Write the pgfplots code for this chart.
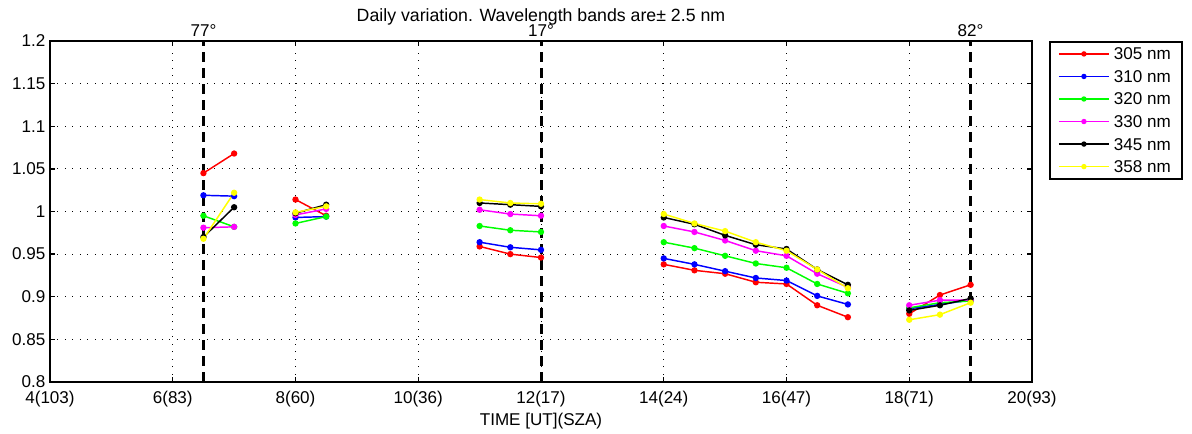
\documentclass[border=0pt]{standalone}
\usepackage{fontspec}
\setmainfont{Liberation Sans}
\usepackage{pgfplots}
\pgfplotsset{compat=1.18}

\definecolor{cRed}{RGB}{255,0,0}
\definecolor{cBlue}{RGB}{0,0,255}
\definecolor{cGreen}{RGB}{0,255,0}
\definecolor{cMag}{RGB}{255,0,255}
\definecolor{cYel}{RGB}{255,255,0}

\newcommand{\fs}{\fontsize{12.8}{15}\selectfont}

\begin{document}
\begin{tikzpicture}
\begin{axis}[
    scale only axis,
    width=736.5pt, height=255.75pt,
    xmin=4, xmax=20, ymin=0.8, ymax=1.2,
    xtick={4,6,...,20},
    xticklabels={4(103),6(83),8(60),10(36),12(17),14(24),16(47),18(71),20(93)},
    ytick={0.8,0.85,...,1.21},
    yticklabels={0.8,0.85,0.9,0.95,1,1.05,1.1,1.15,1.2},
    ticklabel style={font=\fs},
    xticklabel style={anchor=base, yshift=-16.5pt},
    xlabel={TIME [UT](SZA)},
    xlabel style={font=\fs, at={(0.5,0)}, anchor=base, yshift=-33pt},
    title={Daily variation. Wavelength bands are± 2.5 nm},
    title style={font=\fontsize{13.3}{15}\selectfont, at={(0.5,1)}, anchor=base, yshift=8.5pt},
    axis line style={line width=1.4pt},
    tick align=inside,
    major tick length=4pt,
    tick style={black, line width=1pt},
    grid=major,
    major grid style={black, line width=0.6pt, dash pattern=on 0.6pt off 5pt},
    unbounded coords=jump,
    every axis plot/.append style={line width=1.1pt, mark=*, mark size=1.8pt},
    legend image code/.code={\draw[mark repeat=2,mark phase=2,#1,line width=1pt,mark size=1.5pt] plot coordinates {(0pt,0pt)(18.75pt,0pt)(37.5pt,0pt)};},
    legend cell align=left,
    legend style={at={(1.0173,1)}, anchor=north west, draw=black, line width=1.4pt,
        font=\fs, inner xsep=6.25pt, inner ysep=2.5pt, row sep=3.9pt, column sep=1.25pt,
        nodes={inner sep=2pt, text height=9pt, text depth=0pt}},
    clip=false,
]
\addplot[cRed, mark options={fill=cRed}] coordinates {
 (6.5,1.045)(7.0,1.068)(7.5,nan)
 (8.0,1.014)(8.5,0.995)(9,nan)
 (11,0.959)(11.5,0.950)(12,0.946)(13,nan)
 (14,0.938)(14.5,0.931)(15,0.927)(15.5,0.917)(16,0.915)(16.5,0.890)(17,0.876)(17.5,nan)
 (18,0.880)(18.5,0.902)(19,0.914)
};
\addlegendentry{305 nm}
\addplot[cBlue, mark options={fill=cBlue}] coordinates {
 (6.5,1.019)(7,1.018)(7.5,nan)
 (8,0.993)(8.5,0.994)(9,nan)
 (11,0.964)(11.5,0.958)(12,0.955)(13,nan)
 (14,0.945)(14.5,0.938)(15,0.930)(15.5,0.922)(16,0.919)(16.5,0.901)(17,0.891)(17.5,nan)
 (18,0.886)(18.5,0.891)(19,0.896)
};
\addlegendentry{310 nm}
\addplot[cGreen, mark options={fill=cGreen}] coordinates {
 (6.5,0.995)(7,0.982)(7.5,nan)
 (8,0.986)(8.5,0.994)(9,nan)
 (11,0.983)(11.5,0.978)(12,0.976)(13,nan)
 (14,0.964)(14.5,0.957)(15,0.948)(15.5,0.939)(16,0.934)(16.5,0.915)(17,0.904)(17.5,nan)
 (18,0.887)(18.5,0.893)(19,0.895)
};
\addlegendentry{320 nm}
\addplot[cMag, mark options={fill=cMag}] coordinates {
 (6.5,0.981)(7,0.982)(7.5,nan)
 (8,0.996)(8.5,1.003)(9,nan)
 (11,1.002)(11.5,0.997)(12,0.995)(13,nan)
 (14,0.983)(14.5,0.976)(15,0.966)(15.5,0.954)(16,0.948)(16.5,0.927)(17,0.911)(17.5,nan)
 (18,0.890)(18.5,0.896)(19,0.896)
};
\addlegendentry{330 nm}
\addplot[black, mark options={fill=black}] coordinates {
 (6.5,0.970)(7,1.005)(7.5,nan)
 (8,0.998)(8.5,1.008)(9,nan)
 (11,1.010)(11.5,1.008)(12,1.006)(13,nan)
 (14,0.993)(14.5,0.985)(15,0.972)(15.5,0.961)(16,0.956)(16.5,0.932)(17,0.914)(17.5,nan)
 (18,0.884)(18.5,0.890)(19,0.898)
};
\addlegendentry{345 nm}
\addplot[cYel, mark options={fill=cYel}] coordinates {
 (6.5,0.968)(7,1.022)(7.5,nan)
 (8,0.999)(8.5,1.006)(9,nan)
 (11,1.014)(11.5,1.010)(12,1.009)(13,nan)
 (14,0.997)(14.5,0.986)(15,0.977)(15.5,0.964)(16,0.954)(16.5,0.932)(17,0.910)(17.5,nan)
 (18,0.873)(18.5,0.879)(19,0.893)
};
\addlegendentry{358 nm}

% SZA reference lines
\addplot[black, no marks, line width=2.25pt, dash pattern=on 7.5pt off 4.5pt, forget plot] coordinates {(6.5,0.8)(6.5,1.2)};
\addplot[black, no marks, line width=2.25pt, dash pattern=on 7.5pt off 4.5pt, forget plot] coordinates {(12,0.8)(12,1.2)};
\addplot[black, no marks, line width=2.25pt, dash pattern=on 7.5pt off 4.5pt, forget plot] coordinates {(19,0.8)(19,1.2)};
\node[font=\fs, anchor=base, inner sep=0pt, yshift=3.5pt] at (axis cs:6.5,1.2) {77°};
\node[font=\fs, anchor=base, inner sep=0pt, yshift=3.5pt] at (axis cs:12,1.2) {17°};
\node[font=\fs, anchor=base, inner sep=0pt, yshift=3.5pt] at (axis cs:19,1.2) {82°};
\end{axis}
\path (current axis.south west) +(-37.5pt,-37.5pt) (current axis.north east) +(120pt,30.75pt);
\end{tikzpicture}
\end{document}
